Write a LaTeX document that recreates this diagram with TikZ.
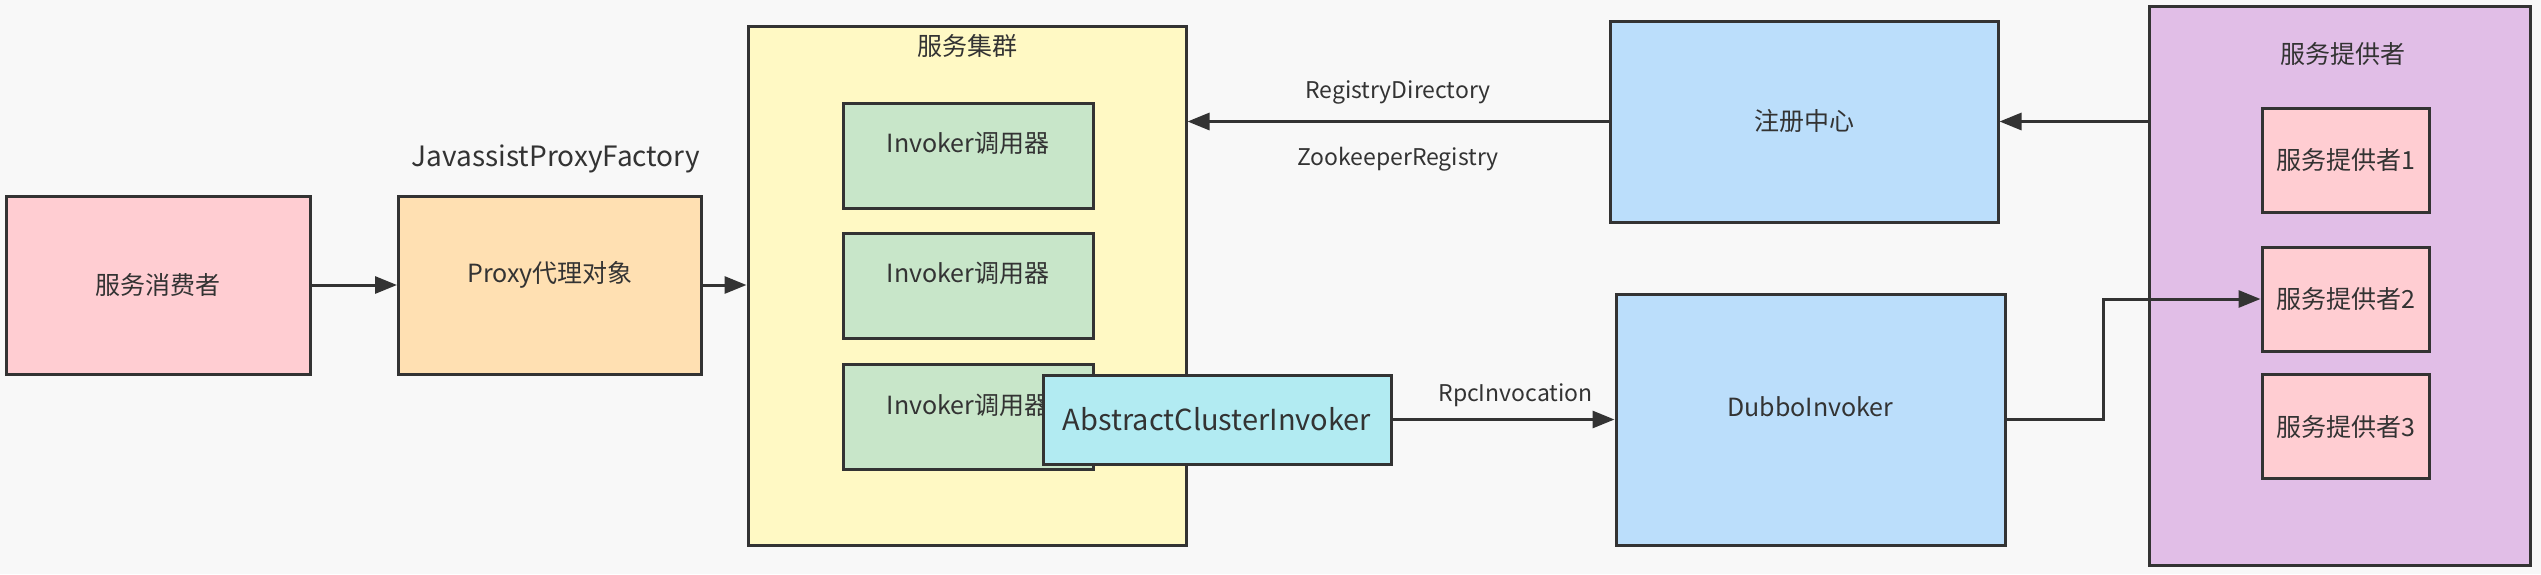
\documentclass[tikz,border=0pt]{standalone}
\usepackage{fontspec}
\setmainfont{Noto Sans CJK SC}
\usetikzlibrary{arrows.meta,positioning}
\definecolor{fundo}{HTML}{F8F8F8}
\definecolor{linha}{HTML}{333333}
\definecolor{rosa}{HTML}{FFCDD2}
\definecolor{laranja}{HTML}{FFE0B2}
\definecolor{amarelo}{HTML}{FFF9C4}
\definecolor{verde}{HTML}{C8E6C9}
\definecolor{ciano}{HTML}{B2EBF2}
\definecolor{azul}{HTML}{BBDEFB}
\definecolor{roxo}{HTML}{E1BEE7}
\tikzset{
  caixa/.style={draw=linha, line width=3pt, inner sep=0pt, text=linha},
  seta/.style={draw=linha, line width=3pt, -{Triangle[length=22pt,width=17pt]}},
  rotulo/.style={text=linha, inner sep=0pt},
  pequeno/.style={font=\fontsize{23}{28}\selectfont}
}
\begin{document}
\begin{tikzpicture}[x=1pt,y=-1pt,font=\fontsize{25}{30}\selectfont]
  % Fundo
  \fill[fundo] (0,0) rectangle (2541,574);
  \useasboundingbox (0,0) rectangle (2541,574);
  % Consumidor e proxy
  \node[caixa, fill=rosa, minimum width=304pt, minimum height=178pt] (consumer) at (158,285) {服务消费者};
  \node[caixa, fill=laranja, minimum width=303pt, minimum height=178pt,
    label={[rotulo, yshift=10pt]center:Proxy代理对象}] (proxy) at (550,285) {};
  \node[rotulo, font=\fontsize{28}{33}\selectfont] (factory) at (556,159) {JavassistProxyFactory};
  % Cluster
  \node[caixa, fill=amarelo, minimum width=438pt, minimum height=519pt] (cluster) at (967,285.5) {};
  \node[rotulo] (clustertitle) at (967,46) {服务集群};
  \foreach \i/\y in {1/155.5, 2/285.5, 3/417}
    \node[caixa, fill=verde, minimum width=250pt, minimum height=105pt,
      label={[rotulo, yshift=12pt]center:Invoker调用器}] (invoker\i) at (968,\y) {};
  \node[caixa, fill=ciano, minimum width=348pt, minimum height=89pt,
    font=\fontsize{29}{34}\selectfont] (abstract) at (1217,419.5) {AbstractClusterInvoker};
  % Registro e Dubbo
  \node[caixa, fill=azul, minimum width=388pt, minimum height=201pt] (registry) at (1804,121.5) {注册中心};
  \node[caixa, fill=azul, minimum width=389pt, minimum height=251pt,
    label={[rotulo, yshift=13pt]center:DubboInvoker}] (dubbo) at (1810.5,419.5) {};
  % Provedores
  \node[caixa, fill=roxo, minimum width=381pt, minimum height=559pt] (provider) at (2339.5,285.5) {};
  \node[rotulo] (providertitle) at (2343,54) {服务提供者};
  \foreach \i/\y in {1/160, 2/299, 3/426.5}
    \node[caixa, fill=rosa, minimum width=167pt, minimum height=104pt] (p\i) at (2345.5,\y) {服务提供者\i};
  % Setas
  \draw[seta] (consumer) -- (proxy);
  \draw[seta] (proxy) -- (cluster.west |- proxy);
  \draw[seta] (provider.west |- registry.east) -- (registry.east);
  \draw[seta] (registry.west) -- node[rotulo, pequeno, above=16pt] (regdir) {RegistryDirectory}
    node[rotulo, pequeno, below=24pt] (zkreg) {ZookeeperRegistry} (registry.west -| cluster.east);
  \draw[seta] (abstract.east) -- node[rotulo, pequeno, above=11pt, xshift=12pt] (rpcinv) {RpcInvocation} (dubbo.west |- abstract.east);
  \draw[seta] (dubbo.east) -- ++(97,0) |- (p2.west);
\end{tikzpicture}
\end{document}
